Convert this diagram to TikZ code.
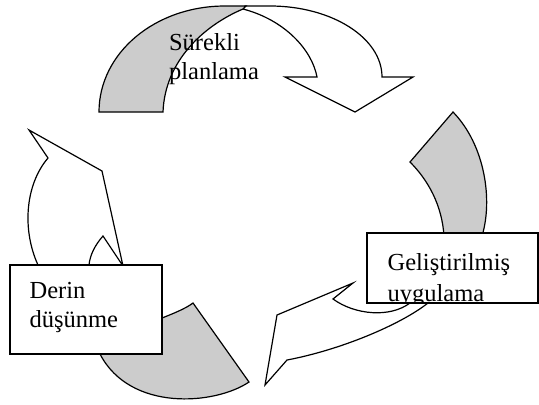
\documentclass[tikz,border=0pt]{standalone}
\usepackage{fontspec}
\setmainfont{Liberation Serif}
\definecolor{backgray}{RGB}{204,204,204}
\begin{document}
\begin{tikzpicture}[x=1bp,y=-1bp, line width=1.2bp, line join=miter,
  back/.style={fill=backgray, draw=black},
  front/.style={fill=white, draw=black},
  labelbox/.style={draw=black, fill=white, line width=1.3bp, inner sep=0pt, outer sep=0pt, anchor=north west},
  lbl/.style={anchor=base west, inner sep=0pt, font=\fontsize{24.5bp}{29bp}\selectfont}]
\useasboundingbox (0,0) rectangle (539,404);

% top arrow
\draw[front] (243,9) .. controls (285,20) and (312,50) .. (317,77) -- (285,77) -- (355,112) -- (413,77) -- (382,77) .. controls (382,38) and (332,6) .. (270,6) -- (245,6) -- cycle;
\draw[back] (99,112) -- (163,112) .. controls (165,60) and (205,25) .. (243,9) -- (246,6) -- (225,6) .. controls (155,6) and (99,53) .. (99,112) -- cycle;

% right arrow
\draw[back] (453,112) -- (410,162) .. controls (428,180) and (442,205) .. (444,236) -- (446,270) -- (478,270) -- (482,236) .. controls (493,200) and (485,145) .. (453,112) -- cycle;
\draw[front] (333,299) -- (353,283) -- (277,315) -- (265,385) -- (287,360) .. controls (340,350) and (400,325) .. (428,303) -- (432,280) -- (408,280) -- (410,303) .. controls (390,318) and (355,315) .. (333,299) -- cycle;

% left arrow
\draw[back] (193,303) -- (249,382) .. controls (215,405) and (130,412) .. (100,354) -- (100,330) -- (140,325) -- (162,318) .. controls (172,314) and (185,309) .. (193,303) -- cycle;
\draw[front] (38,265) .. controls (22,230) and (25,185) .. (48,158) -- (29,130) -- (102,171) -- (123,266) -- (103,236) .. controls (95,245) and (90,255) .. (89,265) -- (89,285) -- (38,285) -- cycle;

% boxes
\node[labelbox, minimum width=152bp, minimum height=89bp] (dbox) at (10,265) {};
\node[labelbox, minimum width=171bp, minimum height=70bp] (gbox) at (367,233) {};

% labels
\node[lbl] (t1a) at (168.5,50.7) {Sürekli};
\node[lbl] (t1b) at (168.5,79.5) {planlama};
\node[lbl] (t2a) at (387,270) {Geliştirilmiş};
\begin{scope}
  \clip ([xshift=0.6bp,yshift=0.6bp]gbox.south west) rectangle ([xshift=-0.6bp,yshift=-0.6bp]gbox.north east);
  \node[lbl] (t2b) at (387,301.5) {uygulama};
\end{scope}
\node[lbl] (t3a) at (29,298) {Derin};
\node[lbl] (t3b) at (29,327) {düşünme};
\end{tikzpicture}
\end{document}
